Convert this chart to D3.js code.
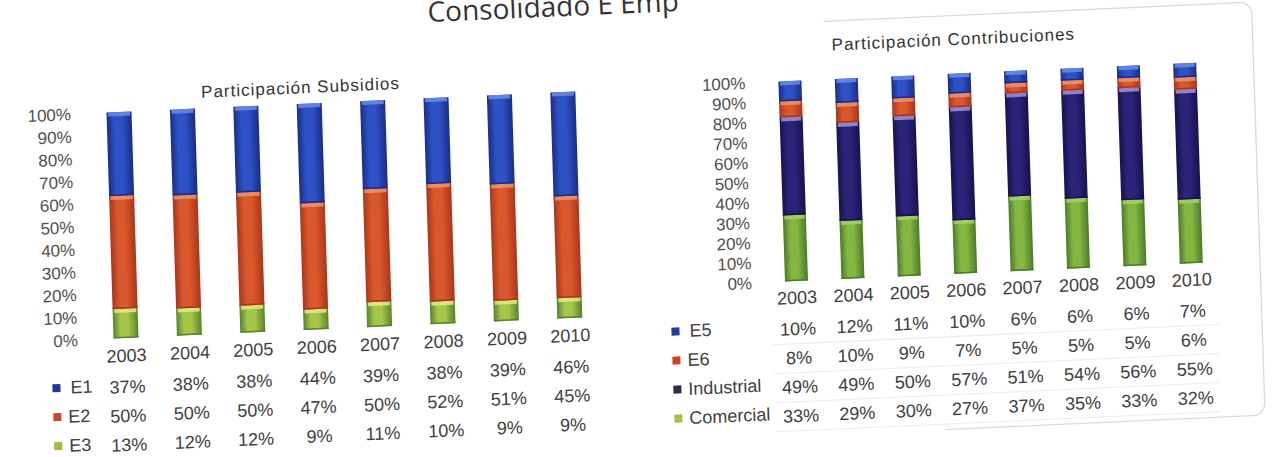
<!DOCTYPE html>
<html><head><meta charset="utf-8">
<script src="https://cdn.jsdelivr.net/npm/d3@7"></script>
<style>body{margin:0;background:#fff}svg{display:block}</style>
</head><body>
<svg id="c" width="1278" height="457"></svg>
<script>
// ---- data ----
const years = ["2003","2004","2005","2006","2007","2008","2009","2010"];
const yTicks = [0,0.1,0.2,0.3,0.4,0.5,0.6,0.7,0.8,0.9,1];
const yTickLabels = ["0%","10%","20%","30%","40%","50%","60%","70%","80%","90%","100%"];

const subsE1 = [37,38,38,44,39,38,39,46];
const subsE2 = [50,50,50,47,50,52,51,45];
const subsE3 = [13,12,12,9,11,10,9,9];

const contE5  = [10,12,11,10,6,6,6,7];
const contE6  = [8,10,9,7,5,5,5,6];
const contInd = [49,49,50,57,51,54,56,55];
const contCom = [33,29,30,27,37,35,33,32];

const subsTitle = "Participación Subsidios";
const contTitle = "Participación Contribuciones";
const pageTitle = "Consolidado E Emp";

// ---- styles ----
const FONT = "'Liberation Sans', Arial, sans-serif";
const palette = {
  E1: {edge:"#1a2c86", mid:"#2d52c6", hi:"#6a8ce6", mark:"#1f3a9a"},
  E2: {edge:"#a8361a", mid:"#d9582e", hi:"#ef9468", mark:"#c94a2a"},
  E3: {edge:"#56832e", mid:"#a6c64a", hi:"#e4ea80", mark:"#9fbc3e"},
  E5: {edge:"#1a2c86", mid:"#2d52c6", hi:"#6a8ce6", mark:"#1f3a9a"},
  E6: {edge:"#a8361a", mid:"#d9582e", hi:"#ef9468", mark:"#d0402a"},
  Industrial: {edge:"#16124e", mid:"#2a2378", hi:"#a294d8", mark:"#2c2c48"},
  Comercial: {edge:"#4b7a28", mid:"#84b642", hi:"#a8d264", mark:"#a8c040"}
};

const svg = d3.select("#c");
const defs = svg.append("defs");
Object.entries(palette).forEach(([k,p])=>{
  const lg = defs.append("linearGradient").attr("id","g_"+k).attr("x1",0).attr("x2",1).attr("y1",0).attr("y2",0);
  [[0,p.edge],[0.3,p.mid],[0.6,p.mid],[1,p.edge]].forEach(([o,c])=>lg.append("stop").attr("offset",o).attr("stop-color",c));
});

function drawChart(cfg){
  const [px,py] = cfg.pivot;
  const g = svg.append("g")
    .attr("transform",`translate(${px},${py}) matrix(1,${cfg.b},${cfg.c},1,0,0) translate(${-px},${-py})`);

  if (cfg.frame){
    const [fx0,fy0,fx1,fy1,bx0] = cfg.frame, r = 12;
    g.append("path")
      .attr("d",`M${fx0},${fy0} H${fx1-r} A${r},${r} 0 0 1 ${fx1},${fy0+r} V${fy1-r} A${r},${r} 0 0 1 ${fx1-r},${fy1} H${bx0}`)
      .attr("fill","none").attr("stroke","#dadada").attr("stroke-width",1.3);
  }

  const pad = 1 - cfg.bw/cfg.step;
  const x = d3.scaleBand().domain(years)
    .range([px - cfg.step/2, px - cfg.step/2 + cfg.step*years.length])
    .paddingInner(pad).paddingOuter(pad/2);
  const y = d3.scaleLinear().domain([0,1]).range([py, py - cfg.H]);

  const rows = years.map((yr,i)=>{const o={year:yr}; cfg.series.forEach(s=>o[s.name]=s.values[i]); return o;});
  const stacked = d3.stack().keys(cfg.stackOrder).offset(d3.stackOffsetExpand)(rows);

  // title
  g.append("text").attr("x",cfg.titleX).attr("y",cfg.titleY)
    .attr("text-anchor","middle").attr("dominant-baseline","central")
    .attr("font-family",FONT).attr("font-size",17).attr("letter-spacing",cfg.titleLS)
    .attr("fill","#333").text(cfg.title);

  // y axis
  const ya = g.append("g").attr("transform",`translate(${cfg.yLabelX},0)`)
    .call(d3.axisLeft(y).tickValues(yTicks).tickFormat((d,i)=>yTickLabels[i]).tickSize(0).tickPadding(0));
  ya.select(".domain").remove();
  ya.selectAll("text").attr("font-family",FONT).attr("font-size",17).attr("fill","#505050");

  // bars
  stacked.forEach(layer=>{
    const key = layer.key;
    const lg = g.append("g");
    layer.forEach(d=>{
      const x0 = x(d.data.year), top = y(d[1]), bot = y(d[0]);
      lg.append("rect").attr("x",x0).attr("y",top).attr("width",x.bandwidth()).attr("height",bot-top)
        .attr("fill",`url(#g_${key})`);
      lg.append("rect").attr("x",x0+1.5).attr("y",top).attr("width",x.bandwidth()-3).attr("height",Math.min(4,bot-top))
        .attr("fill",palette[key].hi).attr("opacity",0.85);
      lg.append("rect").attr("x",x0).attr("y",bot-1.5).attr("width",x.bandwidth()).attr("height",1.5)
        .attr("fill",palette[key].edge);
    });
  });

  // x axis
  const xa = g.append("g").attr("transform",`translate(0,${py})`)
    .call(d3.axisBottom(x).tickSize(0).tickPadding(cfg.xPad));
  xa.select(".domain").remove();
  xa.selectAll("text").attr("font-family",FONT).attr("font-size",18).attr("fill","#404040");

  // data table
  cfg.tableOrder.forEach((key,i)=>{
    const s = cfg.series.find(q=>q.name===key);
    const ry = py + cfg.rowOffset + i*cfg.rowStep;
    g.append("rect").attr("x",cfg.markX).attr("y",ry-4-cfg.legendLift).attr("width",8).attr("height",8)
      .attr("fill",palette[key].mark);
    g.append("text").attr("x",cfg.legX + (cfg.legShift[key]||0)).attr("y",ry-cfg.legendLift)
      .attr("dominant-baseline","central").attr("font-family",FONT).attr("font-size",18)
      .attr("fill","#404040").text(key);
    years.forEach((yr,j)=>{
      g.append("text").attr("x",x(yr)+x.bandwidth()/2).attr("y",ry)
        .attr("text-anchor","middle").attr("dominant-baseline","central")
        .attr("font-family",FONT).attr("font-size",18).attr("fill","#404040")
        .text(s.values[j]+"%");
    });
    if (cfg.gridLines){
      g.append("line").attr("x1",x(years[0])-14).attr("x2",x(years[years.length-1])+x.bandwidth()+14)
        .attr("y1",ry+14.5).attr("y2",ry+14.5).attr("stroke","#ebebeb").attr("stroke-width",1);
    }
  });
}

drawChart({
  pivot:[126,338], b:-0.045, c:0.031, step:63.4, bw:25, H:226,
  series:[{name:"E1",values:subsE1},{name:"E2",values:subsE2},{name:"E3",values:subsE3}],
  stackOrder:["E3","E2","E1"], tableOrder:["E1","E2","E3"],
  title:subsTitle, titleX:308, titleY:96, titleLS:1.0,
  yLabelX:78, xPad:11, rowOffset:49, rowStep:29,
  markX:51, legX:66, legShift:{E1:3}, legendLift:2, gridLines:false
});

drawChart({
  pivot:[796.5,281], b:-0.045, c:0.033, step:56.4, bw:23, H:200,
  series:[{name:"E5",values:contE5},{name:"E6",values:contE6},{name:"Industrial",values:contInd},{name:"Comercial",values:contCom}],
  stackOrder:["Comercial","Industrial","E6","E5"], tableOrder:["E5","E6","Industrial","Comercial"],
  title:contTitle, titleX:961, titleY:47, titleLS:1,
  yLabelX:752, xPad:10, rowOffset:48, rowStep:29,
  markX:670, legX:685, legShift:{E5:3}, legendLift:3, gridLines:true,
  frame:[832,23,1260,436,940]
});

svg.append("text").attr("x",428).attr("y",22)
  .attr("transform","rotate(-2.5,428,22)")
  .attr("font-family","'Open Sans', sans-serif").attr("font-size",28).attr("fill","#333")
  .text(pageTitle);
</script>
</body></html>
